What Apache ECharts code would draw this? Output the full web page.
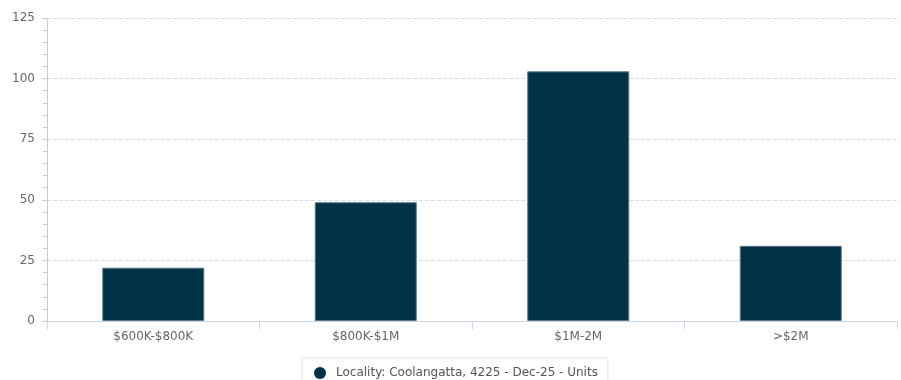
<!DOCTYPE html>
<html><head><meta charset="utf-8">
<script src="https://cdn.jsdelivr.net/npm/echarts@6/dist/echarts.min.js"></script>
<style>html,body{margin:0;padding:0;background:#fff}#c{width:901px;height:380px}</style>
</head><body><div id="c"></div>
<script>
const categories = ['$600K-$800K', '$800K-$1M', '$1M-2M', '>$2M'];
const seriesName = 'Locality: Coolangatta, 4225 - Dec-25 - Units';
const values = [22, 49, 103, 31];
const yTicks = [0, 25, 50, 75, 100, 125];

const chart = echarts.init(document.getElementById('c'), null, {renderer: 'canvas'});
chart.setOption({
  animation: false,
  textStyle: {fontFamily: 'DejaVu Sans'},
  grid: {left: 47, right: 4, top: 18, bottom: 59},
  legend: {
    top: 358, left: 302,
    data: [seriesName],
    icon: 'circle', itemWidth: 12, itemHeight: 12, itemGap: 6,
    itemStyle: {borderWidth: 0},
    borderColor: '#e4e4e4', borderWidth: 1, padding: [9, 10, 6, 12],
    textStyle: {color: '#555', fontSize: 12, fontFamily: 'DejaVu Sans', padding: [0, 0, 0, 5]}
  },
  xAxis: {
    type: 'category', data: categories,
    axisLine: {lineStyle: {color: '#ccd6eb'}},
    axisTick: {show: true, length: 8, lineStyle: {color: '#ccd6eb'}},
    axisLabel: {color: '#666', fontSize: 12, margin: 10}
  },
  yAxis: {
    type: 'value', min: yTicks[0], max: yTicks[yTicks.length - 1], interval: 25,
    axisLine: {show: true, lineStyle: {color: '#ccc'}},
    axisTick: {show: true, length: 5, lineStyle: {color: '#ccc'}},
    minorTick: {show: true, splitNumber: 5, length: 4, lineStyle: {color: '#ccc'}},
    splitLine: {lineStyle: {color: '#d8dde6', type: [4, 2]}},
    axisLabel: {color: '#666', fontSize: 12, margin: 12}
  },
  series: [{
    name: seriesName, type: 'bar', data: values, barWidth: '48%',
    itemStyle: {color: '#003246', borderColor: '#5a7a88', borderWidth: 1}
  }]
});
</script></body></html>
